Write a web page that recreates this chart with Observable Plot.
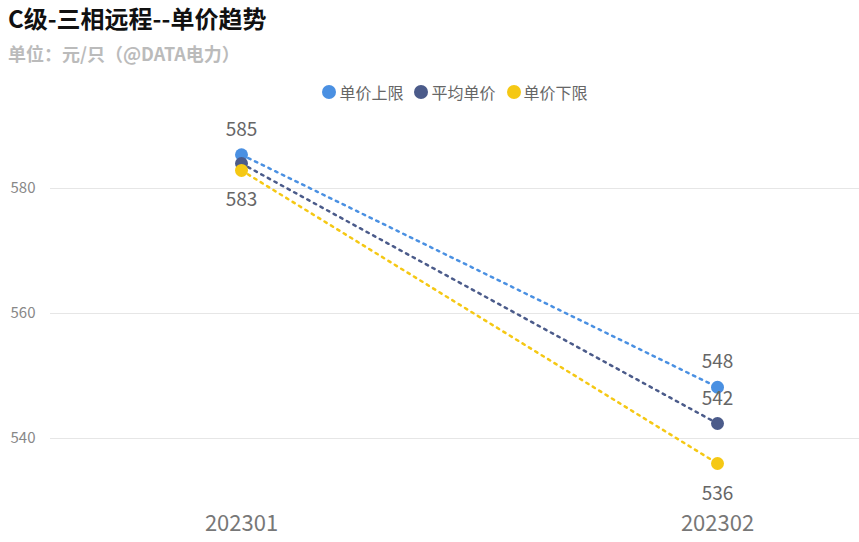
<!DOCTYPE html>
<html>
<head>
<meta charset="utf-8">
<script src="https://cdn.jsdelivr.net/npm/d3@7"></script>
<script src="https://cdn.jsdelivr.net/npm/@observablehq/plot@0.6"></script>
<style>
  body { margin: 0; background: #fff; font-family: "Noto Sans CJK SC", "Noto Sans", sans-serif; }
  #wrap { position: relative; width: 859px; height: 542px; overflow: hidden; }
  #header { position: relative; height: 110px; }
  #title { position: absolute; left: 8px; top: 2px; font-size: 24px; font-weight: bold; color: #111; line-height: 32px; white-space: nowrap; }
  #subtitle { position: absolute; left: 8px; top: 40px; font-size: 18px; font-weight: bold; color: #bbb; line-height: 26px; white-space: nowrap; }
  #legend { position: absolute; left: 0; width: 910px; top: 81px; display: flex; justify-content: center; gap: 11px; font-size: 16px; color: #666; line-height: 22px; }
  .item { display: flex; align-items: center; }
  .sw { width: 14px; height: 14px; border-radius: 50%; margin-right: 3px; }
  svg { display: block; }
</style>
</head>
<body>
<div id="wrap">
  <div id="header">
    <div id="title">C级-三相远程--单价趋势</div>
    <div id="subtitle">单位：元/只（@DATA电力）</div>
    <div id="legend"></div>
  </div>
  <div id="chart"></div>
</div>
<script>
const months = ["202301", "202302"];
const upperPrice = [585.4, 548.2];
const avgPrice = [584.0, 542.4];
const lowerPrice = [582.9, 536.0];
const seriesNames = ["单价上限", "平均单价", "单价下限"];
const seriesColors = ["#4A90E2", "#4B5B8A", "#F5C814"];
const yTicks = [540, 560, 580];

const seriesValues = [upperPrice, avgPrice, lowerPrice];
const data = [];
seriesNames.forEach((s, i) => months.forEach((m, j) => data.push({series: s, month: m, value: seriesValues[i][j]})));

// legend
const legend = document.getElementById("legend");
seriesNames.forEach((s, i) => {
  const it = document.createElement("div");
  it.className = "item";
  it.innerHTML = `<span class="sw" style="background:${seriesColors[i]}"></span><span>${s}</span>`;
  legend.appendChild(it);
});

const fmt = d3.format(".0f");
// labels above for upper & average series (average at 202301 hidden by overlap), below for lower series
const aboveLabels = data.filter(d => d.series === seriesNames[0] || (d.series === seriesNames[1] && d.month !== months[0]));
const belowLabels = data.filter(d => d.series === seriesNames[2]);

const chart = Plot.plot({
  width: 859,
  height: 432,
  marginLeft: 50,
  marginRight: 0,
  marginTop: 3,
  marginBottom: 29,
  style: {fontFamily: "'Noto Sans CJK SC', 'Noto Sans', sans-serif", background: "#fff"},
  x: {type: "point", domain: months, padding: 0, insetLeft: 191, insetRight: 142, label: null},
  y: {domain: [528, 592], label: null},
  color: {domain: seriesNames, range: seriesColors},
  marks: [
    Plot.gridY(yTicks, {stroke: "#e6e6e6", strokeOpacity: 1, strokeWidth: 1}),
    Plot.axisY(yTicks, {tickSize: 0, tickPadding: 15, fontSize: 15, fill: "#888", label: null}),
    Plot.axisX({tickSize: 0, tickPadding: 2, fontSize: 22, fill: "#777", label: null}),
    Plot.line(data, {x: "month", y: "value", z: "series", stroke: "series", strokeWidth: 2.5, strokeDasharray: "2.5,5"}),
    Plot.dot(data, {x: "month", y: "value", fill: "series", r: 6.5}),
    Plot.text(aboveLabels, {x: "month", y: "value", text: d => fmt(d.value), dy: -25, fontSize: 19, fill: "#666"}),
    Plot.text(belowLabels, {x: "month", y: "value", text: d => fmt(d.value), dy: 30, fontSize: 19, fill: "#666"})
  ]
});
document.getElementById("chart").appendChild(chart);
</script>
</body>
</html>
